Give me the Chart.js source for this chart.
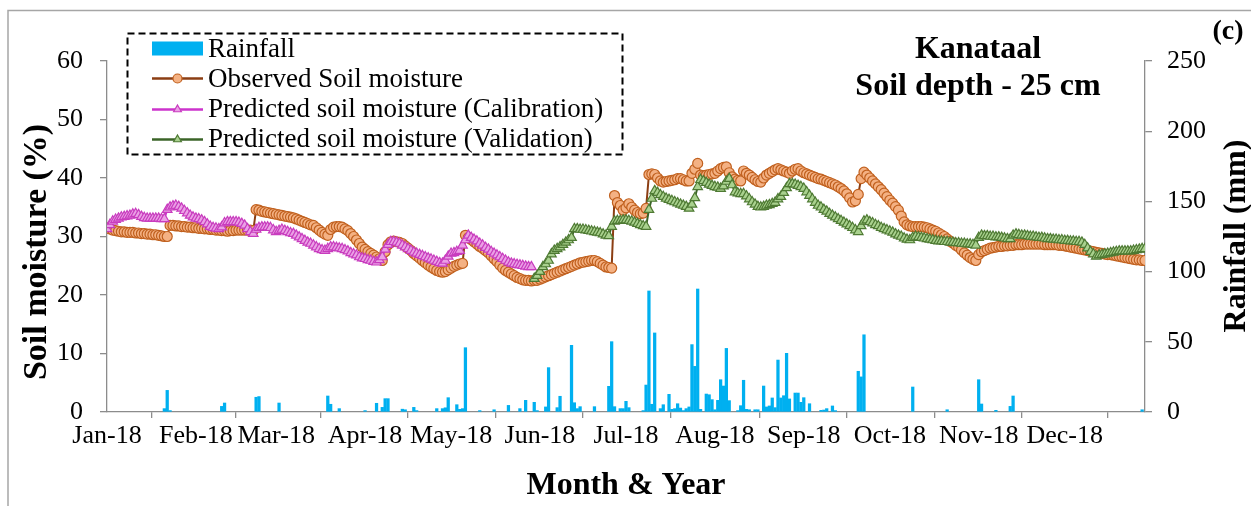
<!DOCTYPE html>
<html>
<head>
<meta charset="utf-8">
<title>Kanataal soil moisture 2018</title>
<script src="https://cdn.jsdelivr.net/npm/chart.js@4.4.1/dist/chart.umd.min.js"></script>
<style>
  body { margin: 0; background: #fff; }
  #wrap { width: 1251px; height: 506px; }
</style>
</head>
<body>
<div id="wrap"><canvas id="soilChart" width="1251" height="506"></canvas></div>
<script>
// x values are day of year, 0 = 1 Jan 2018
var monthStarts = [0, 31, 59, 90, 120, 151, 181, 212, 243, 273, 304, 334];
var monthLabels = ["Jan-18", "Feb-18", "Mar-18", "Apr-18", "May-18", "Jun-18",
  "Jul-18", "Aug-18", "Sep-18", "Oct-18", "Nov-18", "Dec-18"];

// observed soil moisture (%), one value per day from day 0
var observedStart = 0;
var observed = [
  31.5, 31.3, 31.1, 31.0, 30.9, 30.8, 30.8, 30.7, 30.7, 30.7, // 0
  30.6, 30.6, 30.5, 30.5, 30.4, 30.4, 30.3, 30.3, 30.2, 30.1, // 10
  30.0, 30.0, 31.9, 31.9, 31.8, 31.8, 31.7, 31.7, 31.6, 31.6, // 20
  31.5, 31.5, 31.4, 31.4, 31.3, 31.3, 31.2, 31.2, 31.1, 31.1, // 30
  31.0, 31.0, 30.9, 31.0, 31.0, 31.1, 31.1, 31.1, 31.1, 31.1, // 40
  31.1, 31.0, 34.6, 34.5, 34.3, 34.2, 34.1, 34.0, 33.9, 33.8, // 50
  33.7, 33.6, 33.5, 33.4, 33.3, 33.2, 33.0, 32.8, 32.6, 32.4, // 60
  32.2, 32.0, 31.9, 31.5, 31.1, 30.7, 30.4, 30.2, 31.2, 31.6, // 70
  31.7, 31.7, 31.6, 31.3, 31.0, 30.5, 30.0, 29.4, 28.8, 28.2, // 80
  27.8, 27.4, 27.1, 26.8, 26.5, 26.2, 25.9, 27.4, 28.6, 29.1, // 90
  29.2, 29.1, 29.0, 28.8, 28.4, 28.0, 27.6, 27.1, 26.7, 26.3, // 100
  25.9, 25.5, 25.1, 24.8, 24.5, 24.2, 24.0, 23.9, 24.0, 24.3, // 110
  24.6, 24.9, 25.1, 25.3, 25.4, 30.2, 29.8, 29.5, 29.1, 28.7, // 120
  28.3, 28.0, 27.6, 27.2, 26.7, 26.2, 25.7, 25.1, 24.6, 24.2, // 130
  23.9, 23.6, 23.3, 23.0, 22.8, 22.6, 22.5, 22.5, 22.4, 22.5, // 140
  22.5, 22.7, 22.9, 23.1, 23.3, 23.5, 23.7, 23.9, 24.1, 24.3, // 150
  24.5, 24.7, 24.9, 25.1, 25.3, 25.5, 25.6, 25.7, 25.8, 25.9, // 160
  25.9, 25.7, 25.4, 25.1, 24.8, 24.7, 24.6, 37.0, 35.8, 35.3, // 170
  34.5, 34.9, 35.6, 35.0, 34.5, 34.1, 33.9, 34.0, 34.8, 40.6, // 180
  40.7, 40.6, 40.0, 39.5, 39.3, 39.4, 39.5, 39.6, 39.7, 39.9, // 190
  39.9, 39.7, 39.5, 39.5, 40.8, 41.5, 42.5, 40.5, 40.4, 40.5, // 200
  40.6, 40.7, 40.8, 41.2, 41.6, 41.8, 41.9, 40.9, 40.2, 39.8, // 210
  39.6, 39.5, 41.2, 40.8, 40.5, 40.1, 39.7, 39.4, 39.3, 40.0, // 220
  40.5, 40.8, 41.1, 41.4, 41.6, 41.4, 41.2, 41.0, 40.8, 41.2, // 230
  41.5, 41.6, 41.2, 40.9, 40.7, 40.5, 40.3, 40.1, 39.9, 39.8, // 240
  39.6, 39.4, 39.2, 39.0, 38.8, 38.5, 38.2, 37.8, 37.3, 36.6, // 250
  35.9, 36.1, 37.2, 39.9, 41.0, 40.5, 40.0, 39.5, 39.0, 38.5, // 260
  38.0, 37.4, 36.8, 36.2, 35.7, 35.1, 34.5, 33.5, 32.5, 32.0, // 270
  31.8, 31.7, 31.7, 31.7, 31.7, 31.6, 31.5, 31.3, 31.1, 30.9, // 280
  30.6, 30.3, 30.0, 29.6, 29.2, 28.9, 28.5, 28.2, 27.7, 27.2, // 290
  26.8, 26.4, 26.1, 25.9, 26.9, 27.4, 27.6, 27.8, 28.0, 28.1, // 300
  28.2, 28.3, 28.3, 28.4, 28.4, 28.5, 28.5, 28.6, 28.6, 28.6, // 310
  28.7, 28.7, 28.7, 28.7, 28.7, 28.7, 28.7, 28.6, 28.6, 28.6, // 320
  28.6, 28.6, 28.5, 28.5, 28.4, 28.3, 28.2, 28.1, 28.0, 27.9, // 330
  27.8, 27.7, 27.6, 27.5, 27.4, 27.3, 27.2, 27.1, 27.0, 26.9, // 340
  26.9, 26.8, 26.7, 26.6, 26.5, 26.4, 26.3, 26.2, 26.1, 26.0, // 350
  26.0, 25.9, 25.9                                            // 360
];

// model output, calibration period
var calibrationStart = 0;
var calibration = [
  31.3, 32.0, 32.6, 32.9, 33.1, 33.3, 33.4, 33.5, 33.6, 33.8, // 0
  33.9, 33.7, 33.4, 33.2, 33.1, 33.1, 33.1, 33.1, 33.1, 33.0, // 10
  33.0, 34.6, 35.0, 35.2, 35.3, 35.1, 34.8, 34.4, 34.0, 33.6, // 20
  33.3, 33.1, 33.0, 32.8, 32.5, 32.1, 31.7, 31.5, 31.4, 31.3, // 30
  31.6, 32.3, 32.5, 32.5, 32.5, 32.5, 32.4, 32.2, 31.9, 31.3, // 40
  30.8, 30.5, 31.2, 31.5, 31.6, 31.6, 31.6, 31.5, 31.1, 30.8, // 50
  31.0, 31.2, 31.0, 30.8, 30.6, 30.5, 30.2, 29.9, 29.6, 29.3, // 60
  29.0, 28.8, 28.5, 28.2, 27.9, 27.7, 27.6, 27.9, 28.2, 28.2, // 70
  28.1, 28.0, 27.9, 27.7, 27.5, 27.2, 27.0, 26.8, 26.5, 26.3, // 80
  26.2, 26.0, 25.9, 25.7, 25.6, 26.0, 26.5, 27.8, 28.6, 29.1, // 90
  29.1, 29.0, 28.8, 28.5, 28.2, 27.9, 27.6, 27.3, 27.1, 26.9, // 100
  26.7, 26.5, 26.3, 26.1, 25.9, 25.7, 25.5, 25.4, 25.9, 26.6, // 110
  27.1, 27.2, 27.4, 27.6, 28.5, 29.4, 30.2, 29.8, 29.5, 29.2, // 120
  28.8, 28.5, 28.1, 27.8, 27.4, 27.1, 26.8, 26.5, 26.2, 25.9, // 130
  25.6, 25.4, 25.3, 25.2, 25.1, 25.0, 24.9, 24.8, 24.8        // 140
];

// model output, validation period
var validationStart = 149;
var validation = [
  22.8, 23.3, 24.0, 24.8, 25.3, 25.9, 27.0, 27.6, 27.9, 28.2, // 149
  28.6, 29.0, 29.4, 29.8, 31.3, 31.3, 31.2, 31.2, 31.1, 31.0, // 159
  30.9, 30.8, 30.7, 30.6, 30.4, 30.2, 30.1, 31.7, 32.6, 32.7, // 169
  32.7, 32.8, 32.8, 32.7, 32.6, 32.4, 32.2, 32.0, 31.8, 31.7, // 179
  34.6, 36.5, 37.8, 37.5, 37.1, 36.8, 36.5, 36.3, 36.1, 35.9, // 189
  35.7, 35.5, 35.3, 35.1, 34.8, 35.5, 36.6, 38.5, 39.7, 39.5, // 199
  39.2, 38.9, 38.7, 38.5, 38.4, 38.2, 38.6, 39.4, 39.9, 38.8, // 209
  37.6, 37.4, 37.3, 37.3, 36.9, 36.4, 35.9, 35.5, 35.1, 35.0, // 219
  35.1, 35.3, 35.4, 35.6, 35.8, 36.4, 36.8, 37.5, 38.3, 39.0, // 229
  39.0, 38.9, 38.7, 38.5, 38.2, 37.6, 37.0, 36.4, 35.8, 35.3, // 239
  35.0, 34.6, 34.3, 33.9, 33.6, 33.3, 33.0, 32.7, 32.4, 32.1, // 249
  31.8, 31.5, 31.1, 30.8, 31.8, 32.6, 32.8, 32.5, 32.3, 32.0, // 259
  31.8, 31.5, 31.3, 31.1, 30.9, 30.7, 30.4, 30.2, 30.0, 29.7, // 269
  29.5, 29.4, 29.8, 30.0, 29.9, 29.8, 29.7, 29.6, 29.5, 29.4, // 279
  29.3, 29.2, 29.2, 29.1, 29.1, 29.0, 29.0, 28.9, 28.9, 28.8, // 289
  28.8, 28.7, 28.7, 28.6, 28.5, 29.8, 30.2, 30.1, 30.1, 30.0, // 299
  30.0, 29.9, 29.9, 29.8, 29.7, 29.6, 29.6, 30.2, 30.4, 30.3, // 309
  30.2, 30.2, 30.1, 30.0, 30.0, 29.9, 29.8, 29.8, 29.7, 29.6, // 319
  29.6, 29.5, 29.5, 29.4, 29.4, 29.3, 29.3, 29.2, 29.2, 29.1, // 329
  29.1, 29.0, 28.6, 28.0, 27.4, 27.0, 26.6, 26.8, 26.9, 27.0, // 339
  27.1, 27.2, 27.3, 27.4, 27.5, 27.5, 27.5, 27.5, 27.5, 27.6, // 349
  27.7, 27.8, 27.9, 27.9                                      // 359
];

// daily rainfall (mm), rain days only
var rainDays = [20, 21, 22, 40, 41, 52, 53, 60, 77, 78, 81, 90, 94, 96, 97, 98,
  103, 104, 107, 108, 115, 117, 118, 119, 122, 123, 124, 125, 130, 135, 140, 144,
  146, 149, 150, 153, 154, 157, 158, 162, 163, 164, 165, 170, 175, 176, 177, 179,
  180, 181, 182, 187, 188, 189, 190, 191, 193, 194, 196, 197, 198, 199, 200, 201,
  202, 203, 204, 205, 206, 207, 209, 210, 211, 212, 213, 214, 215, 216, 217, 220,
  221, 222, 223, 224, 226, 227, 229, 230, 231, 232, 233, 234, 235, 236, 237, 238,
  240, 241, 242, 243, 245, 249, 250, 251, 253, 254, 262, 263, 264, 281, 293, 304,
  305, 310, 315, 316, 361];
var rainMm = [2.4, 15.4, 1, 4, 6.4, 10.5, 11, 6.4, 11.4, 5.5, 2.4, 1, 6.2, 3.3, 9.5, 9.5,
  2, 1.6, 3.3, 1, 2.4, 2.4, 3, 10.2, 5.2, 1.9, 2.4, 45.8, 1, 1.6, 4.7, 2.4,
  8.3, 6.9, 1, 3.6, 31.6, 3.1, 11.2, 47.5, 6.6, 2.4, 3.8, 3.8, 18.3, 50.1, 3.8, 2.4,
  2.4, 7.6, 3.1, 1, 19.2, 86.2, 5.5, 56.3, 2.4, 5.2, 12.6, 1.9, 2.4, 5.9, 2.8, 1,
  2.4, 3.6, 48, 32.5, 87.6, 1.9, 12.8, 12.3, 8.8, 1.6, 8.3, 23, 18.5, 45.3, 8.1, 1,
  4.5, 22.6, 1.9, 1.6, 1.6, 1.6, 18.5, 3.6, 4.3, 10, 3.1, 37, 10, 11.6, 41.8, 9.3,
  13.5, 13.5, 6.9, 10.2, 5.9, 1.2, 1.4, 2.4, 4.3, 1, 29, 25, 55, 17.8, 1.6, 23,
  5.7, 1.2, 4, 11.4, 1.6];

function toPoints(start, values) {
  return values.map(function (v, i) { return { x: start + i, y: v }; });
}

var serif = "'Liberation Serif', 'Times New Roman', serif";
Chart.defaults.font.family = serif;
Chart.defaults.color = "#000";

var axisGrey = "#8c8c8c";

// frame, titles, legend box
var decor = {
  id: "decor",
  beforeDraw: function (chart) {
    var c = chart.ctx;
    c.save();
    c.fillStyle = "#fff";
    c.fillRect(0, 0, chart.width, chart.height);
    c.strokeStyle = "#a6a6a6";
    c.lineWidth = 1.5;
    c.beginPath();
    c.moveTo(8, chart.height);
    c.lineTo(8, 10.5);
    c.lineTo(chart.width, 10.5);
    c.stroke();
    c.restore();
  },
  afterDraw: function (chart) {
    var c = chart.ctx;
    var area = chart.chartArea;
    c.save();
    c.fillStyle = "#000";
    c.textAlign = "center";
    c.textBaseline = "alphabetic";

    c.font = "bold 32px " + serif;
    c.fillText("Kanataal", 978, 58);
    c.fillText("Soil depth - 25 cm", 978, 95);
    c.font = "bold 28px " + serif;
    c.fillText("(c)", 1228, 39);

    c.font = "bold 32px " + serif;
    c.fillText("Month & Year", (area.left + area.right) / 2, 494);

    c.textBaseline = "middle";
    c.save();
    c.font = "bold 34px " + serif;
    c.translate(37, 252);
    c.rotate(-Math.PI / 2);
    c.fillText("Soil moisture (%)", 0, 0);
    c.restore();
    c.save();
    c.translate(1237, 236);
    c.rotate(-Math.PI / 2);
    c.fillText("Rainfall (mm)", 0, 0);
    c.restore();

    // legend
    c.strokeStyle = "#000";
    c.lineWidth = 2;
    c.setLineDash([7, 4]);
    c.strokeRect(127.5, 33.5, 495, 121);
    c.setLineDash([]);

    var markY = [48.5, 78.5, 109.5, 139.5];
    var textY = [56.5, 86.5, 116.5, 146.5];
    c.font = "27px " + serif;
    c.textAlign = "left";
    c.textBaseline = "alphabetic";
    chart.data.datasets.forEach(function (ds, i) {
      if (ds.type === "bar") {
        c.fillStyle = ds.backgroundColor;
        c.fillRect(152, 41.5, 51, 14);
      } else {
        c.strokeStyle = ds.borderColor;
        c.lineWidth = 2.5;
        c.beginPath();
        c.moveTo(152, markY[i]);
        c.lineTo(203, markY[i]);
        c.stroke();
        c.fillStyle = ds.pointBackgroundColor;
        c.strokeStyle = ds.pointBorderColor;
        c.lineWidth = 1.2;
        Chart.helpers.drawPoint(c, { pointStyle: ds.pointStyle, radius: 4.5, borderWidth: 1.2 }, 177.5, markY[i]);
      }
      c.fillStyle = "#000";
      c.fillText(ds.label, 208, textY[i]);
    });
    c.restore();
  }
};

function lineSeries(label, points, line, fill, edge, style, order) {
  return {
    label: label,
    data: points,
    yAxisID: "y",
    borderColor: line,
    borderWidth: 2,
    pointStyle: style,
    pointRadius: style === "circle" ? 5 : 5.5,
    pointBackgroundColor: fill,
    pointBorderColor: edge,
    pointBorderWidth: 1.2,
    fill: false,
    tension: 0,
    order: order
  };
}

var ctx = document.getElementById("soilChart").getContext("2d");
var soilChart = new Chart(ctx, {
  type: "line",
  data: {
    datasets: [
      {
        type: "bar",
        label: "Rainfall",
        data: rainDays.map(function (d, i) { return { x: d, y: rainMm[i] }; }),
        yAxisID: "y2",
        backgroundColor: "#00b0f0",
        barThickness: 2.6,
        grouped: false,
        order: 4
      },
      lineSeries("Observed Soil moisture", toPoints(observedStart, observed),
        "#8b3e13", "#f4b183", "#c0601e", "circle", 3),
      lineSeries("Predicted soil moisture (Calibration)", toPoints(calibrationStart, calibration),
        "#cc33cc", "#eba0e6", "#c83cbe", "triangle", 2),
      lineSeries("Predicted soil moisture (Validation)", toPoints(validationStart, validation),
        "#3b6428", "#a9d18e", "#4e7a33", "triangle", 1)
    ]
  },
  options: {
    responsive: false,
    animation: false,
    layout: { padding: { left: 0, right: 0, top: 61, bottom: 0 } },
    plugins: {
      legend: { display: false },
      tooltip: { enabled: false }
    },
    scales: {
      x: {
        type: "linear",
        min: 0,
        max: 362,
        offset: false,
        afterBuildTicks: function (axis) {
          axis.ticks = monthStarts.map(function (v) { return { value: v }; });
        },
        afterFit: function (scale) { scale.height = 94; },
        ticks: {
          autoSkip: false,
          maxRotation: 0,
          padding: 3,
          font: { size: 26 },
          callback: function (v) { return monthLabels[monthStarts.indexOf(v)]; }
        },
        grid: { drawOnChartArea: false, tickLength: 6, color: axisGrey, lineWidth: 1.3 },
        border: { color: axisGrey, width: 1.3 }
      },
      y: {
        position: "left",
        min: 0,
        max: 60,
        afterFit: function (scale) { scale.width = 107; },
        ticks: { stepSize: 10, padding: 17, font: { size: 26 } },
        grid: { drawOnChartArea: false, tickLength: 7, color: axisGrey, lineWidth: 1.3 },
        border: { color: axisGrey, width: 1.3 }
      },
      y2: {
        position: "right",
        min: 0,
        max: 250,
        afterFit: function (scale) { scale.width = 106; },
        ticks: { stepSize: 50, padding: 15, font: { size: 26 } },
        grid: { drawOnChartArea: false, tickLength: 7, color: axisGrey, lineWidth: 1.3 },
        border: { color: axisGrey, width: 1.3 }
      }
    }
  },
  plugins: [decor]
});
</script>
</body>
</html>
